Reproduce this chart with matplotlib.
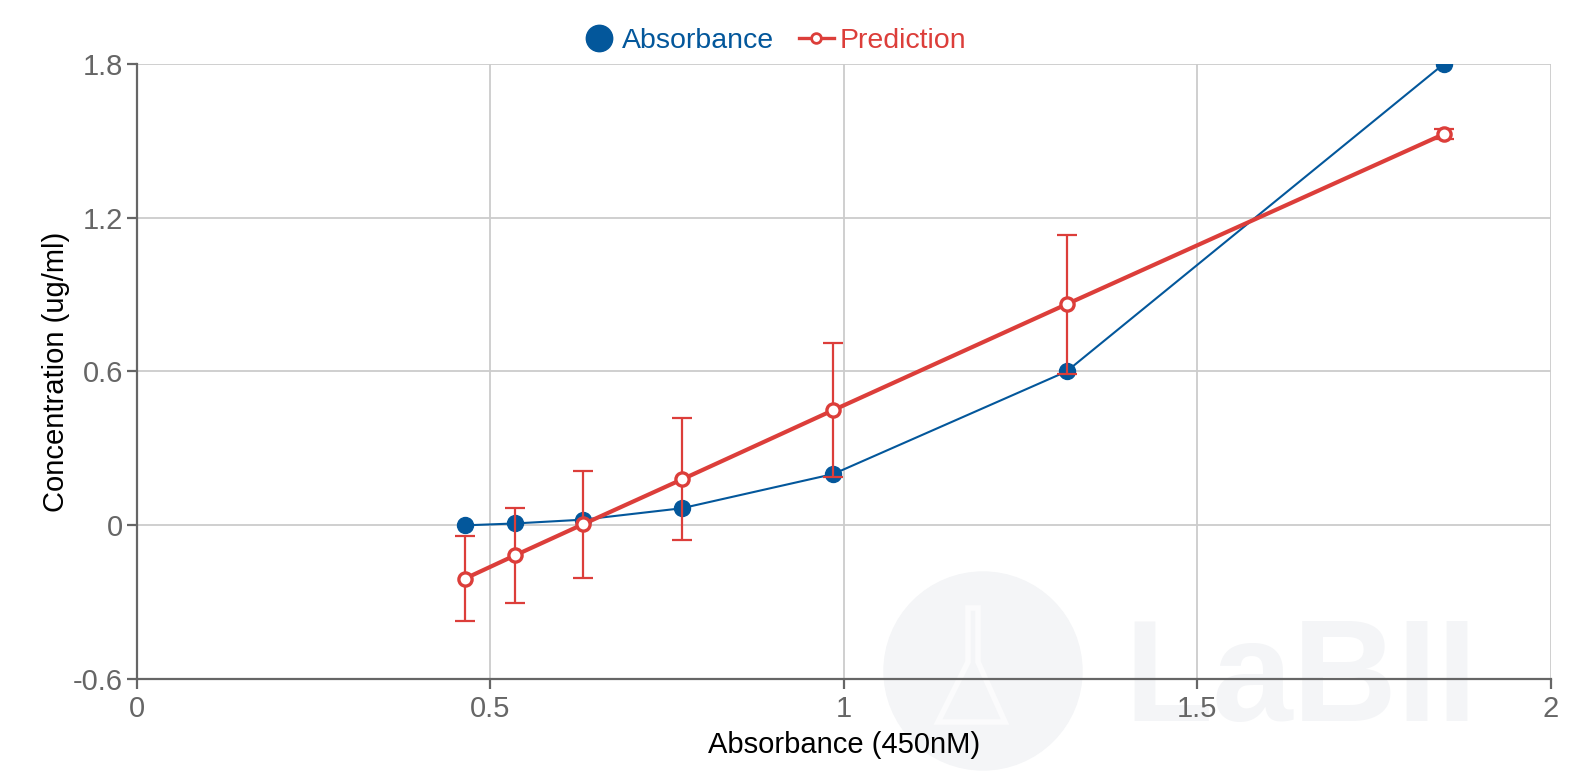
import numpy as np
import matplotlib
matplotlib.use('Agg')
import matplotlib.pyplot as plt
from matplotlib.lines import Line2D
from matplotlib.patches import Circle, Rectangle, Polygon

plt.rcParams['font.family'] = ['Liberation Sans', 'DejaVu Sans']

# donnees
absorbance = [0.464, 0.535, 0.631, 0.771, 0.985, 1.315, 1.849]
concentration = [0.0, 0.0074, 0.0222, 0.0667, 0.2, 0.6, 1.8]
prediction = [-0.208, -0.117, 0.004, 0.179, 0.449, 0.862, 1.526]
pred_err = [0.166, 0.185, 0.209, 0.238, 0.261, 0.271, 0.021]

x_ticks = [0, 0.5, 1, 1.5, 2]
x_labels = ['0', '0.5', '1', '1.5', '2']
y_ticks = [-0.6, 0, 0.6, 1.2, 1.8]
y_labels = ['-0.6', '0', '0.6', '1.2', '1.8']

BLUE = '#03579b'
RED = '#dc3e3a'
GRID = '#cccccc'
AXIS = '#666666'
WM = '#f4f5f7'

fig = plt.figure(figsize=(15.76, 7.84), dpi=100)
ax = fig.add_axes([0.0867, 0.1336, 0.8974, 0.7852])
ax.set_zorder(2)
ax.set_facecolor('none')

# filigrane (dessine sous les axes)
clip = Rectangle((0, 0), 1551, 784, transform=None)
wm = Circle((983, 784 - 671), 99, transform=None, color=WM, zorder=-5)
fig.patches.append(wm)
flask = Polygon([(968, 784 - 608), (978, 784 - 608), (978, 784 - 662),
                 (1005, 784 - 722), (938, 784 - 722), (968, 784 - 662)],
                closed=True, transform=None, fill=False, edgecolor='#fbfbfc',
                linewidth=4, zorder=-4)
fig.patches.append(flask)
t = fig.text(1124 / 1576, 1 - 721 / 784, 'LaBII', fontsize=104, fontweight='bold',
             color=WM, ha='left', va='baseline', zorder=-5)
t.set_clip_path(clip)

ax.plot(absorbance, concentration, color=BLUE, linewidth=1.5, marker='o',
        markersize=11.5, markerfacecolor=BLUE, markeredgecolor=BLUE, zorder=3)
ax.errorbar(absorbance, prediction, yerr=pred_err, fmt='none', ecolor=RED,
            elinewidth=1.6, capsize=7, capthick=1.6, zorder=4)
ax.plot(absorbance, prediction, color=RED, linewidth=3, marker='o',
        markersize=9.5, markerfacecolor='white', markeredgecolor=RED,
        markeredgewidth=2.4, zorder=5)

ax.set_xlim(0, 2)
ax.set_ylim(-0.6, 1.8)
ax.set_xticks(x_ticks)
ax.set_xticklabels(x_labels)
ax.set_yticks(y_ticks)
ax.set_yticklabels(y_labels)
ax.grid(True, color=GRID, linewidth=1.3, zorder=0)
ax.set_axisbelow(True)
for s in ['top', 'right']:
    ax.spines[s].set_visible(False)
for s in ['left', 'bottom']:
    ax.spines[s].set_color(AXIS)
    ax.spines[s].set_linewidth(1.6)
ax.tick_params(axis='both', colors=AXIS, labelcolor=AXIS, labelsize=21,
               length=7, width=1.6, direction='out')
ax.tick_params(axis='x', pad=4)
ax.tick_params(axis='y', pad=3)
ax.set_xlabel('Absorbance (450nM)', fontsize=21, color='black')
ax.set_ylabel('Concentration (ug/ml)', fontsize=21, color='black')
ax.xaxis.set_label_coords(0.5, -0.1067)
ax.yaxis.set_label_coords(-0.0567, 0.5)
ax.xaxis.label.set_va('center')
ax.yaxis.label.set_va('center')

handles = [
    Line2D([], [], color=BLUE, linestyle='none', marker='o', markersize=19),
    Line2D([], [], color=RED, linewidth=2.4, marker='o', markersize=7,
           markerfacecolor='white', markeredgecolor=RED, markeredgewidth=2),
]
leg = fig.legend(handles, ['Absorbance', 'Prediction'], loc='center',
                 bbox_to_anchor=(0.491, 1 - 41 / 784), ncol=2, frameon=False,
                 fontsize=20.5, handlelength=1.2, handletextpad=0.2,
                 columnspacing=0.9)
leg.get_texts()[0].set_color(BLUE)
leg.get_texts()[1].set_color(RED)

plt.savefig('out.png', dpi=100)
plt.close()
